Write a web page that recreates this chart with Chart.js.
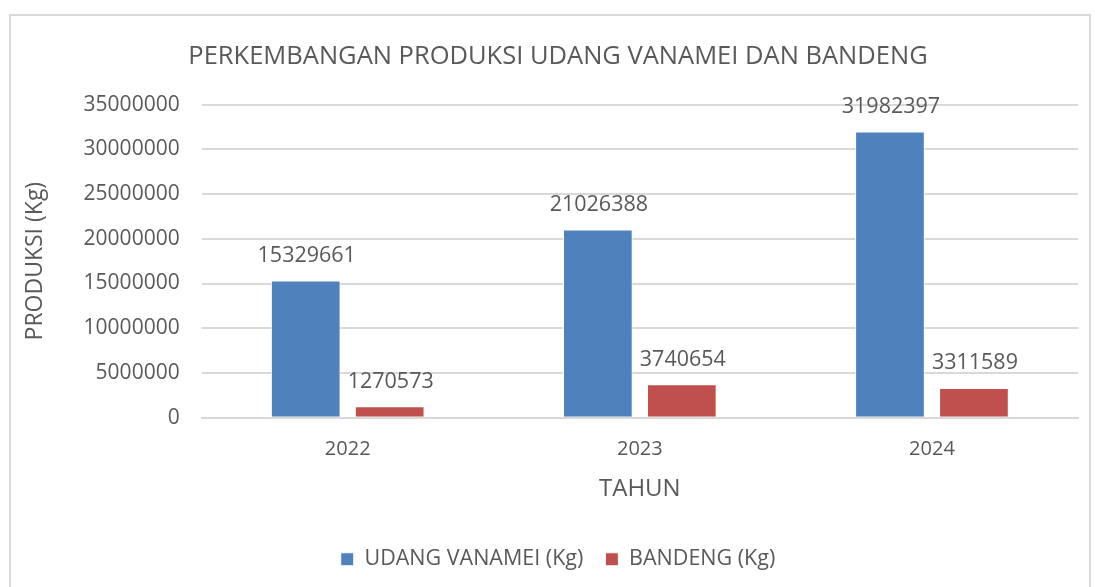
<!DOCTYPE html>
<html>
<head>
<meta charset="utf-8">
<script src="https://cdn.jsdelivr.net/npm/chart.js@4"></script>
<style>
    html, body { margin: 0; padding: 0; background: #fff; overflow: hidden; }
    #wrap { position: relative; width: 1095px; height: 587px; }
    #frame { position: absolute; left: 9px; top: 14px; width: 1082px; height: 600px; border: 2px solid #d9d9d9; box-sizing: border-box; }
    canvas { position: absolute; left: 0; top: 0; }
</style>
</head>
<body>
<div id="wrap">
    <div id="frame"></div>
    <canvas id="chart" width="1095" height="587"></canvas>
</div>
<script>
// Data
const years = ["2022", "2023", "2024"];
const udangVanamei = [15329661, 21026388, 31982397];
const bandeng = [1270573, 3740654, 3311589];
const yTicks = [0, 5000000, 10000000, 15000000, 20000000, 25000000, 30000000, 35000000];

const textColor = "#595959";
const fontFamily = "'Open Sans', sans-serif";

// Value labels above bars
const valueLabels = {
    id: "valueLabels",
    afterDatasetsDraw(chart) {
        const ctx = chart.ctx;
        ctx.save();
        ctx.fillStyle = textColor;
        ctx.font = "21.5px " + fontFamily;
        ctx.textAlign = "center";
        ctx.textBaseline = "bottom";
        chart.data.datasets.forEach((ds, i) => {
            chart.getDatasetMeta(i).data.forEach((bar, j) => {
                ctx.fillText(ds.data[j], bar.x + 1, bar.y - 14);
            });
        });
        ctx.restore();
    }
};

new Chart(document.getElementById("chart"), {
    type: "bar",
    data: {
        labels: years,
        datasets: [
            { label: "UDANG VANAMEI (Kg)", data: udangVanamei, backgroundColor: "#4F81BD", borderColor: "#ffffff", borderWidth: 1 },
            { label: "BANDENG (Kg)", data: bandeng, backgroundColor: "#C0504D", borderColor: "#ffffff", borderWidth: 1 }
        ]
    },
    options: {
        responsive: false,
        animation: false,
        devicePixelRatio: 1,
        categoryPercentage: 0.575,
        barPercentage: 0.83,
        layout: { padding: { left: 22, right: 1, top: 0, bottom: 7 } },
        plugins: {
            title: {
                display: true,
                text: "PERKEMBANGAN PRODUKSI UDANG VANAMEI DAN BANDENG",
                color: textColor,
                font: { family: fontFamily, size: 25.5, weight: "normal" },
                padding: { top: 41, bottom: 33 }
            },
            legend: {
                position: "bottom",
                labels: {
                    color: textColor,
                    font: { family: fontFamily, size: 21.5 },
                    boxWidth: 13,
                    boxHeight: 13,
                    padding: 22
                }
            },
            tooltip: { enabled: false }
        },
        scales: {
            x: {
                grid: { display: false, drawTicks: false },
                border: { color: "#d9d9d9", width: 2 },
                ticks: { color: textColor, font: { family: fontFamily, size: 20 }, padding: 20 },
                title: {
                    display: true,
                    text: "TAHUN",
                    color: textColor,
                    font: { family: fontFamily, size: 24 },
                    padding: { top: -7, bottom: 23 }
                }
            },
            y: {
                min: 0,
                max: 35000000,
                afterBuildTicks: axis => { axis.ticks = yTicks.map(v => ({ value: v })); },
                grid: { color: "#d9d9d9", lineWidth: 2, drawTicks: false },
                border: { display: false },
                ticks: {
                    color: textColor,
                    font: { family: fontFamily, size: 21 },
                    padding: 22,
                    callback: v => String(v)
                },
                title: {
                    display: true,
                    text: "PRODUKSI (Kg)",
                    color: textColor,
                    font: { family: fontFamily, size: 23 },
                    padding: { top: 0, bottom: 12 }
                }
            },
            // empty right-hand spacer so the plot ends where the reference does
            ySpacer: {
                position: "right",
                display: true,
                grid: { display: false, drawTicks: false },
                border: { display: false },
                ticks: { display: false },
                afterFit: axis => { axis.width = 16; }
            }
        }
    },
    plugins: [valueLabels]
});
</script>
</body>
</html>
